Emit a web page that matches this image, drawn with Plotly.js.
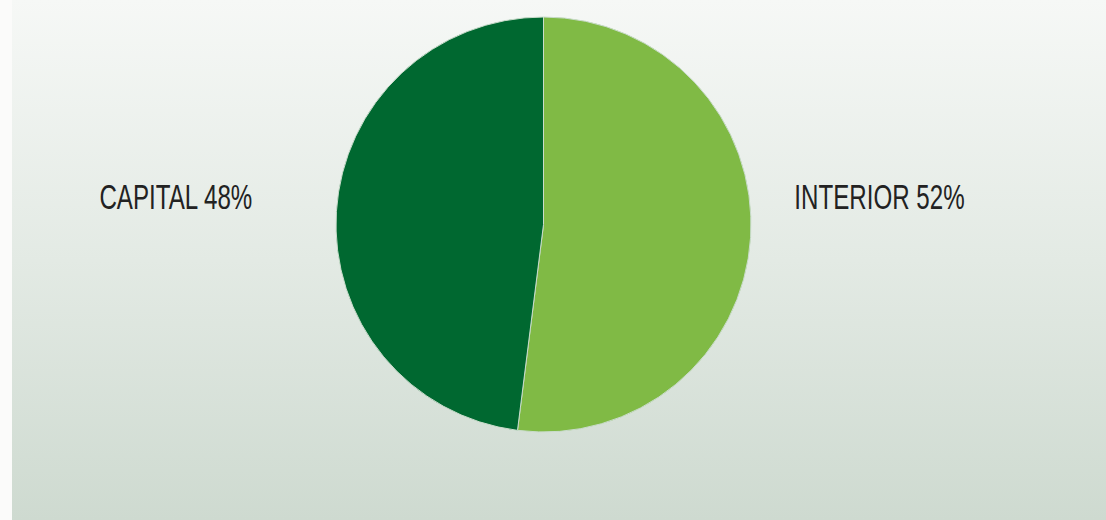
<!DOCTYPE html>
<html>
<head>
<meta charset="utf-8">
<script src="https://cdn.plot.ly/plotly-3.0.1.min.js"></script>
<style>
html,body{margin:0;padding:0;width:1106px;height:520px;overflow:hidden;background:#fbfbfa;}
#bg{position:absolute;left:12px;top:0;width:1094px;height:520px;background:linear-gradient(to bottom,#f6f8f6 0%,#e3eae4 50%,#cedad0 100%);}
#chart{position:absolute;left:0;top:0;width:1106px;height:520px;}
</style>
</head>
<body>
<div id="bg"></div>
<div id="chart"></div>
<script>
const categories = ["INTERIOR", "CAPITAL"];
const shares = [52, 48];
const colors = ["#80ba45", "#006830"];
const labelX = [879, 176];
const labelY = [196, 196];

const W = 1106, H = 520;
const trace = {
  type: "pie",
  labels: categories,
  values: shares,
  sort: false,
  direction: "clockwise",
  rotation: 0,
  textinfo: "none",
  hoverinfo: "label+percent",
  marker: {colors: colors, line: {color: "#c9dccb", width: 1}},
  domain: {x: [336/W, 751/W], y: [(H-432)/H, (H-17)/H]},
  showlegend: false
};

const annotations = categories.map((c, i) => ({
  text: c + " " + shares[i] + "%",
  x: labelX[i] / W, y: 1 - labelY[i] / H,
  xref: "paper", yref: "paper",
  xanchor: "center", yanchor: "middle",
  showarrow: false,
  font: {family: "Liberation Sans, Arial, sans-serif", size: 35, color: "#222222"}
}));

Plotly.newPlot("chart", [trace], {
  width: W, height: H,
  margin: {l: 0, r: 0, t: 0, b: 0},
  paper_bgcolor: "rgba(0,0,0,0)",
  plot_bgcolor: "rgba(0,0,0,0)",
  annotations: annotations
}, {displayModeBar: false}).then(function () {
  // condense the label glyphs horizontally to mimic a condensed typeface
  document.querySelectorAll("#chart text.annotation-text").forEach(function (t) {
    const b = t.getBBox();
    const cx = b.x + b.width / 2;
    t.setAttribute("transform", "translate(" + cx + ",0) scale(0.69,1) translate(" + (-cx) + ",0)");
  });
});
</script>
</body>
</html>
